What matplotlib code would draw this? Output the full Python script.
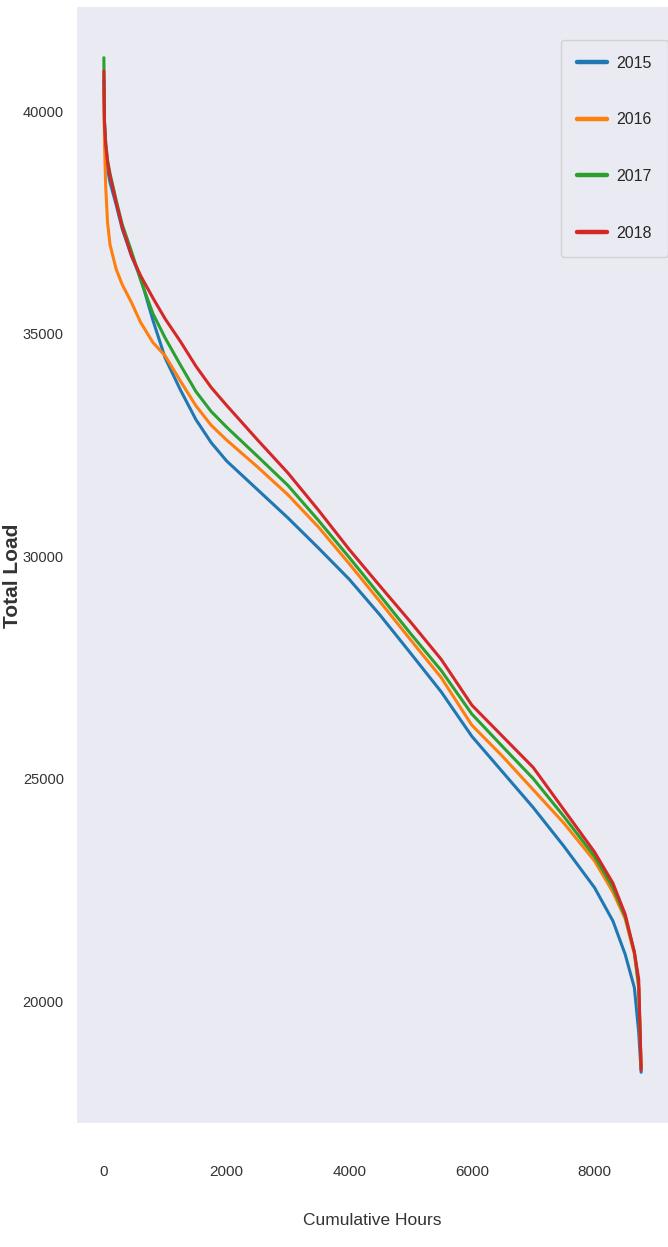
import matplotlib
matplotlib.use("Agg")
import matplotlib.pyplot as plt
import seaborn as sns
from matplotlib.ticker import MultipleLocator

hours = [0, 10, 30, 60, 100, 200, 300, 450, 600, 800, 1000, 1250, 1500, 1750,
         2000, 2500, 3000, 3500, 4000, 4500, 5000, 5500, 6000, 6500, 7000, 7500,
         8000, 8300, 8500, 8650, 8720, 8760]

load_2015 = [40700, 39700, 39150, 38700, 38400, 37900, 37350, 36750, 36250, 35300,
             34450, 33730, 33070, 32550, 32140, 31500, 30860, 30180, 29480, 28680,
             27820, 26950, 25950, 25150, 24350, 23480, 22550, 21800, 21050, 20300,
             19300, 18400]
load_2016 = [40500, 39300, 38300, 37500, 37000, 36450, 36100, 35700, 35250, 34800,
             34500, 33930, 33380, 32940, 32610, 32010, 31380, 30650, 29830, 28980,
             28120, 27270, 26200, 25500, 24750, 24000, 23150, 22450, 21850, 21050,
             20300, 18500]
load_2017 = [41200, 39800, 39300, 38900, 38600, 38000, 37450, 36850, 36200, 35450,
             34900, 34290, 33700, 33250, 32900, 32250, 31590, 30800, 29970, 29120,
             28260, 27430, 26450, 25720, 25000, 24150, 23250, 22550, 21900, 21100,
             20350, 18500]
load_2018 = [40900, 39750, 39250, 38850, 38550, 37950, 37400, 36750, 36300, 35800,
             35330, 34820, 34270, 33790, 33390, 32620, 31870, 31030, 30150, 29330,
             28520, 27680, 26650, 25950, 25250, 24300, 23350, 22650, 21950, 21100,
             20500, 18450]

years = ["2015", "2016", "2017", "2018"]
series = [load_2015, load_2016, load_2017, load_2018]

sns.set_style("dark")
plt.rcParams['font.family'] = ['Liberation Sans', 'DejaVu Sans']

fig = plt.figure(figsize=(6.68, 12.47), dpi=100)
ax = fig.add_axes([77/668, 124/1247, 1 - 77/668, (1123 - 7)/1247])

for y, vals in zip(years, series):
    ax.plot(hours, vals, lw=2.2, label=y)

ax.xaxis.set_major_locator(MultipleLocator(2000))
ax.yaxis.set_major_locator(MultipleLocator(5000))
ax.tick_params(axis='x', labelsize=11, pad=27, colors='#333333')
ax.tick_params(axis='y', labelsize=10.5, pad=6, colors='#333333')
for sp in ax.spines.values():
    sp.set_visible(False)

ax.set_xlabel("Cumulative Hours", fontsize=12.5, color='#333333', labelpad=24)
ax.set_ylabel("Total Load", fontsize=15, fontweight='bold', color='#333333')
ax.yaxis.set_label_coords(-0.093, 0.49)

leg = ax.legend(loc='upper right', bbox_to_anchor=(1.0, 1 - 33/1116),
                borderaxespad=0, fontsize=11.5, labelspacing=2.6, borderpad=1.0,
                handlelength=1.9, handletextpad=0.6, frameon=True)
for line in leg.get_lines():
    line.set_linewidth(3.2)
leg.get_frame().set_facecolor('#EAEAF2')
leg.get_frame().set_edgecolor('#CCCCCC')

fig.savefig("out.png", dpi=100)
